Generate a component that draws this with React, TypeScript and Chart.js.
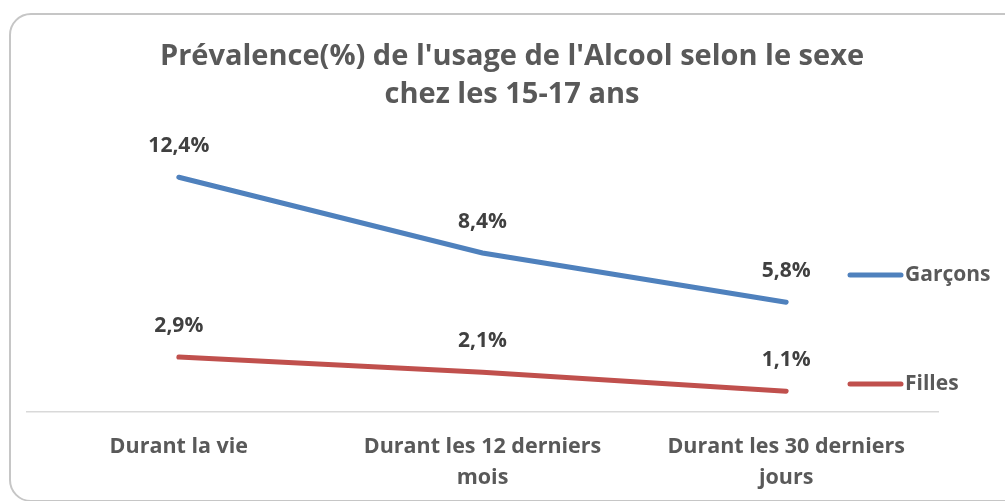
import React, { useEffect, useRef } from "react";
import { Chart, registerables } from "chart.js";

Chart.register(...registerables);

const categories: (string | string[])[] = [
  "Durant la vie",
  ["Durant les 12 derniers", "mois"],
  ["Durant les 30 derniers", "jours"],
];
const garcons = [12.4, 8.4, 5.8];
const filles = [2.9, 2.1, 1.1];
const seriesNames = ["Garçons", "Filles"];
const titleLines = ["Prévalence(%) de l'usage de l'Alcool selon le sexe", "chez les 15-17 ans"];

const FONT = "'Open Sans', sans-serif";
const GRAY = "#595959";
const BLUE = "#4f81bd";
const RED = "#c0504d";

const fmt = (v: number) => v.toFixed(1).replace(".", ",") + "%";

const overlayPlugin = {
  id: "overlay",
  afterDatasetsDraw(chart: any) {
    const ctx = chart.ctx;
    ctx.save();
    // data labels
    ctx.font = `bold 21px ${FONT}`;
    ctx.fillStyle = "#404040";
    ctx.textAlign = "center";
    ctx.textBaseline = "middle";
    chart.data.datasets.forEach((ds: any, i: number) => {
      const meta = chart.getDatasetMeta(i);
      meta.data.forEach((pt: any, j: number) => {
        ctx.fillText(fmt(ds.data[j]), pt.x, pt.y - 31);
      });
    });
    // title
    ctx.font = `bold 29px ${FONT}`;
    ctx.fillStyle = GRAY;
    ctx.textBaseline = "alphabetic";
    titleLines.forEach((t, k) => ctx.fillText(t, 512, 65 + k * 38));
    // legend
    ctx.textBaseline = "middle";
    const legendY = [275, 384];
    chart.data.datasets.forEach((ds: any, i: number) => {
      const y = legendY[i];
      ctx.strokeStyle = ds.borderColor;
      ctx.lineWidth = 5;
      ctx.lineCap = "round";
      ctx.beginPath();
      ctx.moveTo(850, y);
      ctx.lineTo(901, y);
      ctx.stroke();
      ctx.font = `bold 21px ${FONT}`;
      ctx.fillStyle = GRAY;
      ctx.textAlign = "left";
      ctx.fillText(ds.label, 905, y);
    });
    ctx.restore();
  },
};

export default function App() {
  const ref = useRef<HTMLCanvasElement | null>(null);
  useEffect(() => {
    document.body.style.margin = "0";
    const chart = new Chart(ref.current!, {
      type: "line",
      data: {
        labels: categories as any,
        datasets: [
          { label: seriesNames[0], data: garcons, borderColor: BLUE, backgroundColor: BLUE, borderWidth: 5, pointRadius: 0, tension: 0, borderCapStyle: "round" },
          { label: seriesNames[1], data: filles, borderColor: RED, backgroundColor: RED, borderWidth: 5, pointRadius: 0, tension: 0, borderCapStyle: "round" },
        ],
      },
      options: {
        animation: false,
        responsive: false,
        layout: { padding: { left: 27, right: 67, top: 128, bottom: 0 } },
        plugins: { legend: { display: false }, title: { display: false }, tooltip: { enabled: false } },
        scales: {
          x: {
            offset: true,
            grid: { display: false, drawTicks: false },
            border: { display: true, color: "#d9d9d9", width: 1.5 },
            ticks: { color: GRAY, font: { family: FONT, size: 21.5, weight: "bold", lineHeight: 1.44 }, padding: 19.5, maxRotation: 0, autoSkip: false },
            afterFit: (s: any) => { s.height = 89; },
          },
          y: { display: false, min: 0, max: 15 },
        },
      },
      plugins: [overlayPlugin],
    } as any);
    return () => chart.destroy();
  }, []);
  return (
    <div style={{ position: "relative", width: 1005, height: 501, overflow: "hidden", background: "#fff" }}>
      <canvas ref={ref} width={1005} height={501} style={{ position: "absolute", left: 0, top: 0 }} />
      <div style={{ position: "absolute", left: 9, top: 13, width: 1030, height: 485, border: "2px solid #c6c6c6", borderRadius: 22, pointerEvents: "none" }} />
    </div>
  );
}
